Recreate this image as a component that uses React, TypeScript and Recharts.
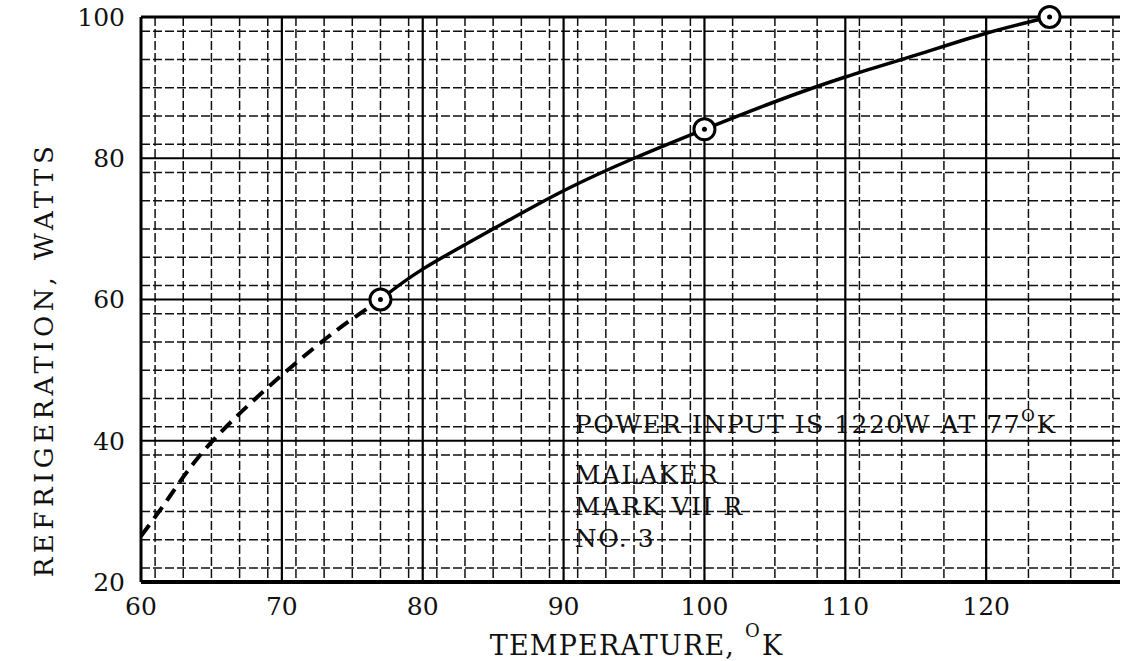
import React from "react";
import { ComposedChart, Line, XAxis, YAxis, CartesianGrid, ReferenceLine, ReferenceDot } from "recharts";

const DASHED_TEMP = [60, 62, 65, 70, 74, 77];
const DASHED_WATTS = [26.5, 32, 39.8, 49.3, 55.8, 60];
const SOLID_TEMP = [77, 80, 85, 90, 95, 100, 105, 110, 115, 120, 124.5];
const SOLID_WATTS = [60, 64.3, 70.0, 75.4, 80.0, 84.1, 88.0, 91.5, 94.6, 97.7, 100];
const POINT_TEMP = [77, 100, 124.5];
const POINT_WATTS = [60, 84.1, 100];

const X_TICKS = [60, 70, 80, 90, 100, 110, 120];
const Y_TICKS = [20, 40, 60, 80, 100];
const X_MAJOR = [70, 80, 90, 100, 110, 120];
const Y_MAJOR = [40, 60, 80];
const X_MINOR = Array.from({ length: 69 }, (_, i) => 61 + i);
const Y_MINOR = Array.from({ length: 39 }, (_, i) => 22 + i * 2);

const NOTE_LINES = ["MALAKER", "MARK VII R", "NO. 3"];

const FONT = "'DejaVu Serif', 'Liberation Serif', serif";

const dashedData = DASHED_TEMP.map((t, i) => ({ t, w: DASHED_WATTS[i] }));
const solidData = SOLID_TEMP.map((t, i) => ({ t, w: SOLID_WATTS[i] }));
const pointData = POINT_TEMP.map((t, i) => ({ t, w: POINT_WATTS[i] }));

function RingDot(props: any) {
  const { cx, cy } = props;
  if (cx == null || cy == null) return null;
  return (
    <g>
      <circle cx={cx} cy={cy} r={10.5} fill="#fff" stroke="#000" strokeWidth={3} />
      <circle cx={cx} cy={cy} r={2.5} fill="#000" />
    </g>
  );
}

function NoteLabel(props: any) {
  const { viewBox } = props;
  if (!viewBox) return null;
  const x = viewBox.x;
  const y = viewBox.y;
  return (
    <text x={x} y={y} fontFamily={FONT} fontSize={25} letterSpacing={1.5} fill="#111">
      <tspan x={x} y={y}>POWER INPUT IS 1220W AT 77</tspan>
      <tspan dy={-12} fontSize={17}>O</tspan>
      <tspan dy={12}>K</tspan>
      {NOTE_LINES.map((s, i) => (
        <tspan key={s} x={x} y={y + 50 + i * 32}>{s}</tspan>
      ))}
    </text>
  );
}

function XTitle(props: any) {
  const { viewBox } = props;
  const cx = viewBox.x + viewBox.width / 2 + 6;
  const y = viewBox.y + 73;
  return (
    <text x={cx} y={y} textAnchor="middle" fontFamily={FONT} fontSize={27} letterSpacing={1.2} fill="#111">
      TEMPERATURE,{" "}
      <tspan dy={-18} fontSize={18}>O</tspan>
      <tspan dy={18} dx={1}>K</tspan>
    </text>
  );
}

function YTitle(props: any) {
  const { viewBox } = props;
  const x = 44;
  const y = viewBox.y + viewBox.height / 2 + 60;
  return (
    <text x={x} y={y} transform={`rotate(-90 ${x} ${y})`} textAnchor="middle" dominantBaseline="central" fontFamily={FONT} fontSize={26} letterSpacing={4.5} fill="#111">
      REFRIGERATION, WATTS
    </text>
  );
}

export default function App() {
  return (
    <div style={{ position: "absolute", left: 0, top: 0, width: 1122, height: 661, background: "#fff" }}>
      <ComposedChart width={1122} height={661} margin={{ top: 17, right: 2, left: 0, bottom: 0 }}>
        <CartesianGrid verticalValues={X_MINOR} horizontalValues={Y_MINOR} stroke="#111" strokeWidth={1.5} strokeDasharray="9 3" />
        <CartesianGrid verticalValues={X_MAJOR} horizontalValues={Y_MAJOR} stroke="#000" strokeWidth={2.2} />
        <XAxis
          dataKey="t"
          type="number"
          domain={[60, 129.5]}
          ticks={X_TICKS}
          allowDataOverflow
          height={79}
          axisLine={{ stroke: "#000", strokeWidth: 4 }}
          tickLine={false}
          tickSize={0}
          tickMargin={15}
          tick={{ fill: "#111", fontSize: 25, fontFamily: FONT }}
          label={<XTitle />}
        />
        <YAxis
          type="number"
          domain={[20, 100]}
          ticks={Y_TICKS}
          width={141}
          axisLine={{ stroke: "#000", strokeWidth: 3 }}
          tickLine={false}
          tickSize={0}
          tickMargin={16}
          tick={{ fill: "#111", fontSize: 25, fontFamily: FONT }}
          label={<YTitle />}
        />
        <ReferenceLine y={100} stroke="#000" strokeWidth={3} />
        <Line data={dashedData} dataKey="w" type="natural" stroke="#000" strokeWidth={4} strokeDasharray="14 8" dot={false} isAnimationActive={false} />
        <Line data={solidData} dataKey="w" type="natural" stroke="#000" strokeWidth={3.5} dot={false} isAnimationActive={false} />
        <Line data={pointData} dataKey="w" stroke="none" dot={<RingDot />} isAnimationActive={false} />
        <ReferenceDot x={90.8} y={41.1} r={0.01} fill="none" stroke="none" label={<NoteLabel />} />
      </ComposedChart>
    </div>
  );
}
